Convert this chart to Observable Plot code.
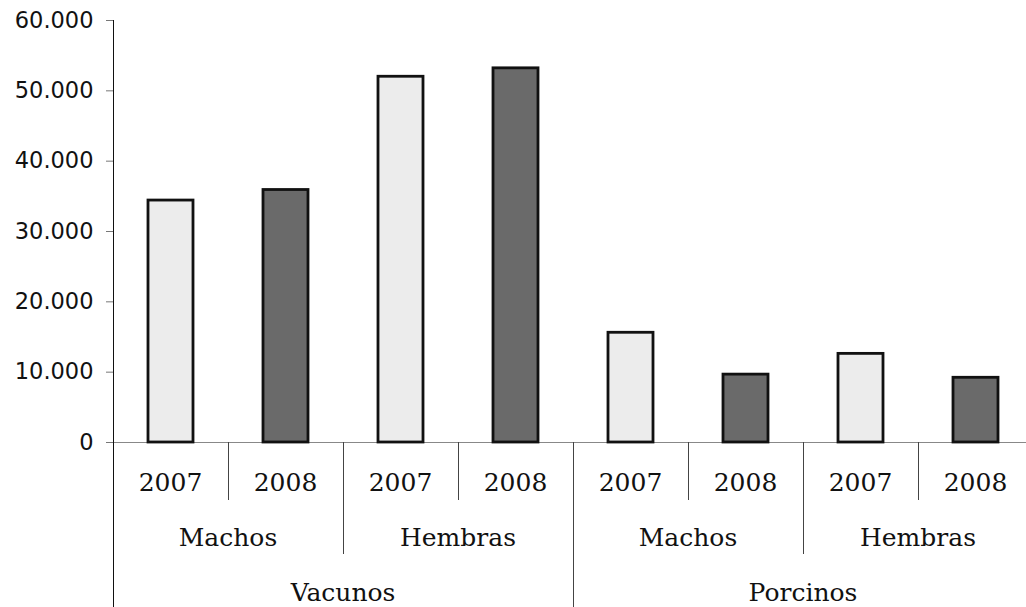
<!DOCTYPE html>
<html>
<head>
<meta charset="utf-8">
<script src="https://cdn.jsdelivr.net/npm/d3@7"></script>
<script src="https://cdn.jsdelivr.net/npm/@observablehq/plot@0.6"></script>
<style>
  html, body { margin: 0; padding: 0; background: #ffffff; }
  #chart svg { display: block; }
</style>
</head>
<body>
<div id="chart"></div>
<script>
// ---- data ----
const species = ["Vacunos", "Vacunos", "Vacunos", "Vacunos", "Porcinos", "Porcinos", "Porcinos", "Porcinos"];
const sexes   = ["Machos", "Machos", "Hembras", "Hembras", "Machos", "Machos", "Hembras", "Hembras"];
const years   = ["2007", "2008", "2007", "2008", "2007", "2008", "2007", "2008"];
const values  = [34400, 35900, 52000, 53200, 15600, 9650, 12600, 9200];
const yTicks  = [0, 10000, 20000, 30000, 40000, 50000, 60000];
const yearColors = ["#ececec", "#6a6a6a"];

const data = values.map((v, i) => ({
  key: `${species[i]}|${sexes[i]}|${years[i]}`,
  species: species[i], sex: sexes[i], year: years[i], value: v
}));
const keys = data.map(d => d.key);

const fmt = d => d3.format(",")(d).replace(/,/g, ".");

const W = 1026, H = 607, mTop = 20, mBottom = 165, mLeft = 113;

const chart = Plot.plot({
  width: W, height: H,
  marginTop: mTop, marginBottom: mBottom, marginLeft: mLeft, marginRight: 0,
  style: { fontFamily: "'DejaVu Sans', sans-serif", fontSize: "22px", color: "#1a1a1a", background: "#ffffff", overflow: "hidden" },
  x: { type: "band", domain: keys, range: [mLeft, mLeft + 920], padding: 0, axis: null },
  y: { domain: [0, 60000], axis: null },
  color: { domain: ["2007", "2008"], range: yearColors },
  marks: [
    Plot.axisY({ ticks: yTicks, tickSize: 7, tickPadding: 13, tickFormat: fmt, label: null, stroke: "#777", fill: "#111", fontSize: 22.5 }),
    Plot.ruleY([0], { stroke: "#888", strokeWidth: 1 }),
    Plot.barY(data, { x: "key", y: "value", fill: "year", stroke: "#111", strokeWidth: 2.8, insetLeft: 35, insetRight: 35 })
  ]
});
document.getElementById("chart").appendChild(chart);

// ---- hierarchical category axis, positioned with Plot's own scales ----
const xs = chart.scale("x");
const ys = chart.scale("y");
const step = xs.step || xs.bandwidth;
const y0 = ys.apply(0);
const svg = d3.select(chart);
const g = svg.append("g");
const depth = { 1: 58, 2: 112, 3: H - y0 };
const bandStart = i => i < keys.length ? xs.apply(keys[i]) : xs.apply(keys[keys.length - 1]) + step;

for (let i = 0; i <= keys.length; i++) {
  let level;
  if (i === 0 || i === keys.length || species[i] !== species[i - 1]) level = 3;
  else if (sexes[i] !== sexes[i - 1]) level = 2;
  else level = 1;
  const x = Math.round(bandStart(i)) + 0.5;
  g.append("line")
    .attr("x1", x).attr("x2", x)
    .attr("y1", i === 0 ? mTop : y0).attr("y2", y0 + depth[level])
    .attr("stroke", i === 0 ? "#111" : "#444").attr("stroke-width", 1);
}

const serif = "'DejaVu Serif', serif";
function label(txt, cx, cy) {
  g.append("text").attr("x", cx).attr("y", cy).attr("dy", "0.36em")
    .attr("text-anchor", "middle").attr("font-family", serif).attr("font-size", 25)
    .attr("fill", "#111").text(txt);
}
// years
keys.forEach((k, i) => label(years[i], xs.apply(k) + step / 2, y0 + 40));
// groups by sex and species
function groupRuns(arr) {
  const runs = []; let s = 0;
  for (let i = 1; i <= arr.length; i++) {
    if (i === arr.length || arr[i] !== arr[i - 1]) { runs.push([s, i]); s = i; }
  }
  return runs;
}
const sexKey = data.map(d => d.species + "|" + d.sex);
groupRuns(sexKey).forEach(([a, b]) => label(sexes[a], (bandStart(a) + bandStart(b)) / 2, y0 + 95));
groupRuns(species).forEach(([a, b]) => label(species[a], (bandStart(a) + bandStart(b)) / 2, y0 + 150));
</script>
</body>
</html>
